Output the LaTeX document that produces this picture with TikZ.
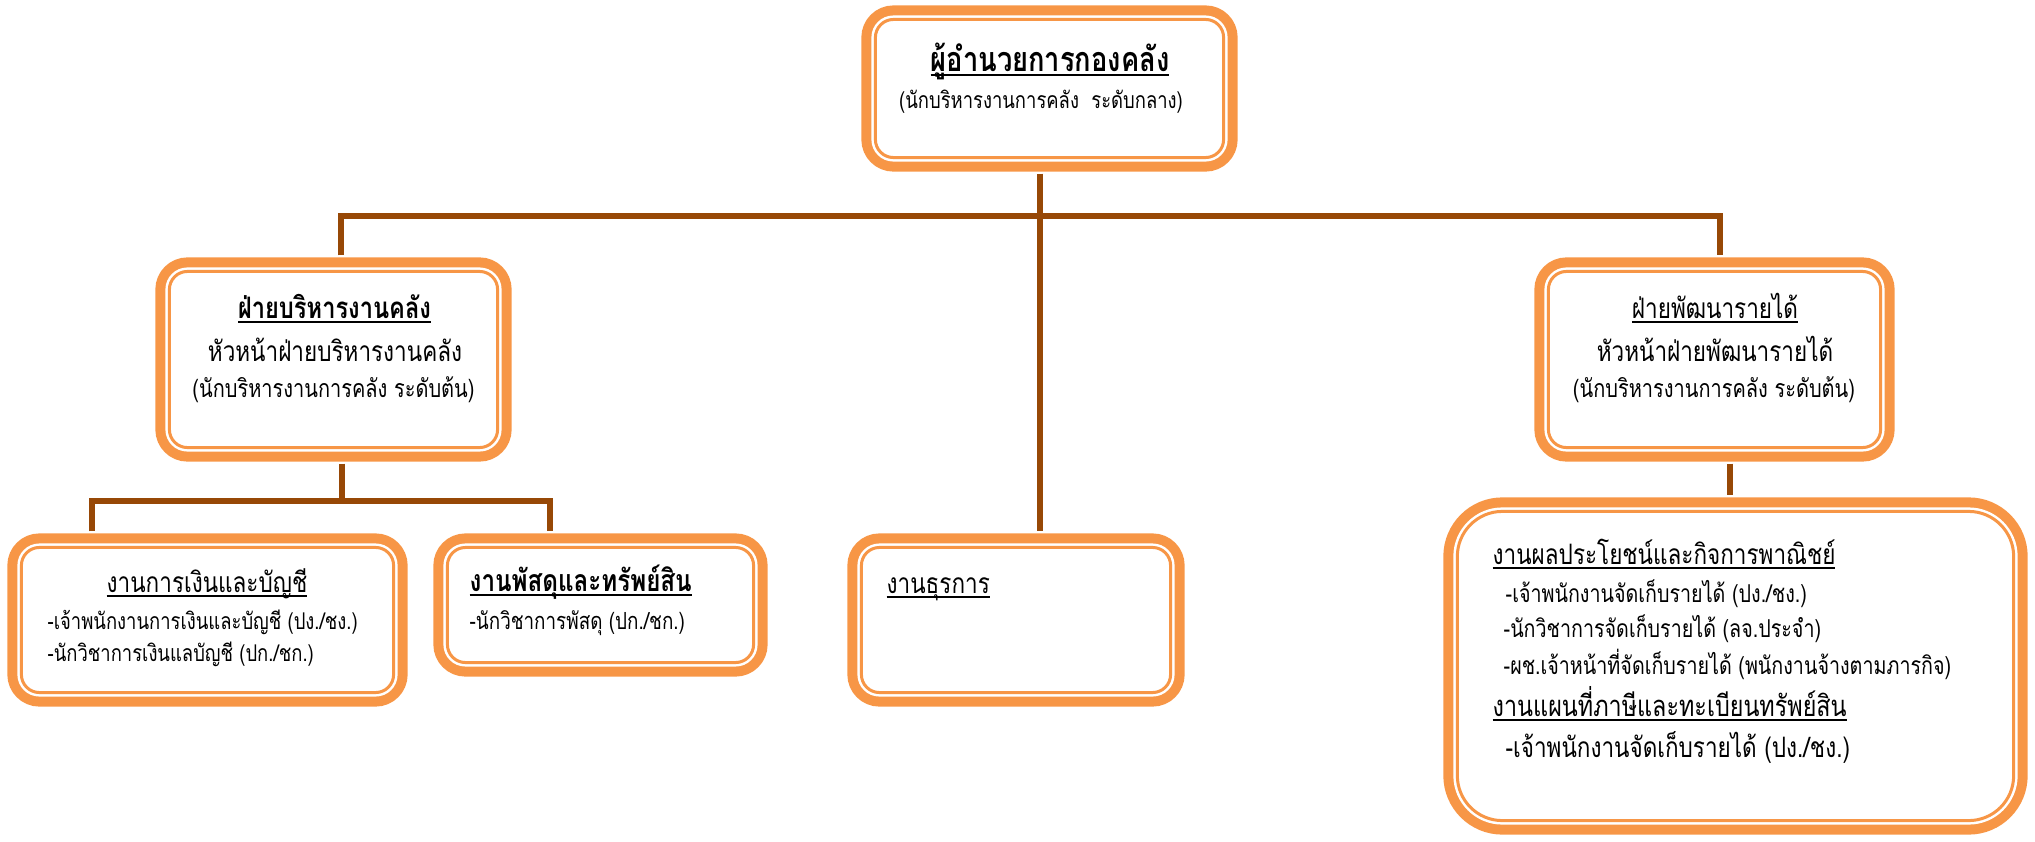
\documentclass[tikz,border=0pt]{standalone}
\usepackage{fontspec}
\newfontfamily\thaifont[Script=Thai,FakeStretch=0.8]{Loma}
\usepackage{tikz}
\usetikzlibrary{
  calc,
  positioning}
\definecolor{boxorange}{HTML}{F79646}
\definecolor{linebrown}{HTML}{974806}
\newcommand{\thaiul}[1]{\leavevmode\setbox0=\hbox{#1}\rlap{\rule[-1.5pt]{\wd0}{0.6pt}}\box0}
\tikzset{
  orgbox/.style={rectangle, rounded corners=0.18cm, fill=white,
    draw=boxorange, line width=0.03cm, inner sep=0pt,
    preaction={draw=boxorange, line width=0.28cm},
    preaction={draw=white, line width=0.08cm}},
  conn/.style={draw=linebrown, line width=0.06cm},
  dirhead/.style={inner sep=0pt, font=\thaifont\bfseries\fontsize{9.7}{11}\selectfont},
  dirsub/.style={inner sep=0pt, font=\thaifont\fontsize{6.55}{8}\selectfont},
  headtxt/.style={inner sep=0pt, font=\thaifont\fontsize{8}{10}\selectfont},
  subtxt/.style={inner sep=0pt, font=\thaifont\fontsize{7.1}{9}\selectfont},
  itemtxt/.style={inner sep=0pt, font=\thaifont\fontsize{7}{9}\selectfont}
}
\begin{document}
\begin{tikzpicture}[x=0.01cm,y=-0.01cm]
  \useasboundingbox (0,0) rectangle (2035,842);
  % boxes
  \node[orgbox, minimum width=3.48cm, minimum height=1.38cm] (director) at (1049.5,88.5) {};
  \node[orgbox, minimum width=3.28cm, minimum height=1.76cm] (finmid) at (333.5,359.5) {};
  \node[orgbox, minimum width=3.32cm, minimum height=1.76cm] (revmid) at (1714.5,359.5) {};
  \node[orgbox, minimum width=3.72cm, minimum height=1.45cm] (acct) at (207.5,620) {};
  \node[orgbox, minimum width=3.06cm, minimum height=1.15cm] (supply) at (600.5,605) {};
  \node[orgbox, minimum width=3.09cm, minimum height=1.45cm] (admin) at (1016,620) {};
  \node[orgbox, rounded corners=0.45cm, minimum width=5.56cm, minimum height=3.09cm] (benefit) at (1735.5,666) {};
  % connectors
  \coordinate (trunk) at (1040,216);
  \coordinate (barL) at (341,216);
  \coordinate (barR) at (1720,216);
  \coordinate (subbar) at (342,501);
  \coordinate (subL) at (92,501);
  \coordinate (subR) at (550,501);
  \draw[conn, shorten <=0.145cm, shorten >=0.145cm] (barL |- finmid.north) -- (barL) -- (barR) -- (barR |- revmid.north);
  \draw[conn, shorten <=0.145cm, shorten >=0.145cm] (director.south -| trunk) -- (admin.north -| trunk);
  \draw[conn, shorten <=0.145cm] (finmid.south -| subbar) -- (subbar);
  \draw[conn, shorten <=0.145cm, shorten >=0.145cm] (subL |- acct.north) -- (subL) -- (subR) -- (subR |- supply.north);
  \draw[conn, shorten <=0.145cm, shorten >=0.145cm] ([xshift=0.155cm]revmid.south) -- ([xshift=0.155cm]revmid.south |- benefit.north);
  % texts
  \node[dirhead, anchor=base] (directorT) at (1050,71) {\thaiul{ผู้อำนวยการกองคลัง}};
  \node[dirsub, anchor=base] (directorS) at (1041,108) {(นักบริหารงานการคลัง\ \ ระดับกลาง)};
  \node[headtxt, anchor=base] (finmidT) at (334.5,318) {\fontsize{8.4}{10}\bfseries\thaiul{ฝ่ายบริหารงานคลัง}};
  \node[headtxt, anchor=base] (finmidH) at (335,361) {หัวหน้าฝ่ายบริหารงานคลัง};
  \node[subtxt, anchor=base] (finmidS) at (333.5,397) {(นักบริหารงานการคลัง ระดับต้น)};
  \node[headtxt, anchor=base] (revmidT) at (1715,318) {\thaiul{ฝ่ายพัฒนารายได้}};
  \node[headtxt, anchor=base] (revmidH) at (1715,361) {หัวหน้าฝ่ายพัฒนารายได้};
  \node[subtxt, anchor=base] (revmidS) at (1714,397) {(นักบริหารงานการคลัง ระดับต้น)};
  \node[headtxt, anchor=base] (acctT) at (207,592) {\thaiul{งานการเงินและบัญชี}};
  \node[itemtxt, anchor=base west] (acctA) at (47,629) {\fontsize{6.55}{9}\selectfont -เจ้าพนักงานการเงินและบัญชี (ปง./ชง.)};
  \node[itemtxt, anchor=base west] (acctB) at (47,661) {\fontsize{6.55}{9}\selectfont -นักวิชาการเงินแลบัญชี (ปก./ชก.)};
  \node[headtxt, anchor=base west] (supplyT) at (469,591) {\fontsize{8.6}{10}\bfseries\thaiul{งานพัสดุและทรัพย์สิน}};
  \node[itemtxt, anchor=base west] (supplyA) at (469,629) {\fontsize{6.7}{9}\selectfont -นักวิชาการพัสดุ (ปก./ชก.)};
  \node[headtxt, anchor=base west] (adminT) at (886,593) {\thaiul{งานธุรการ}};
  \node[headtxt, anchor=base west] (benefitT) at (1492,564) {\thaiul{งานผลประโยชน์และกิจการพาณิชย์}};
  \node[itemtxt, anchor=base west] (benefitA) at (1505,602) {-เจ้าพนักงานจัดเก็บรายได้ (ปง./ชง.)};
  \node[itemtxt, anchor=base west] (benefitB) at (1503,637) {-นักวิชาการจัดเก็บรายได้ (ลจ.ประจำ)};
  \node[itemtxt, anchor=base west] (benefitC) at (1503,674) {-ผช.เจ้าหน้าที่จัดเก็บรายได้ (พนักงานจ้างตามภารกิจ)};
  \node[headtxt, anchor=base west] (mapT) at (1492,716) {\fontsize{8.3}{10}\selectfont\thaiul{งานแผนที่ภาษีและทะเบียนทรัพย์สิน}};
  \node[headtxt, anchor=base west] (mapA) at (1505,757) {-เจ้าพนักงานจัดเก็บรายได้ (ปง./ชง.)};
\end{tikzpicture}
\end{document}
